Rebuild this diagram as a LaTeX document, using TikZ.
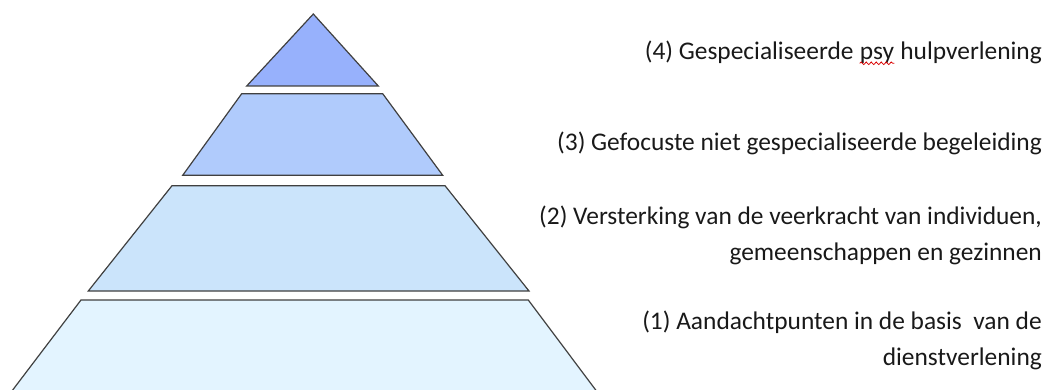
\documentclass[tikz,border=0pt]{standalone}
\usepackage{fontspec}
\setmainfont{Carlito}
\usetikzlibrary{decorations.pathmorphing}
\definecolor{tierfour}{RGB}{151,177,252}
\definecolor{tierthree}{RGB}{176,203,252}
\definecolor{tiertwo}{RGB}{203,228,251}
\definecolor{tierone}{RGB}{227,244,255}
\definecolor{edgegray}{RGB}{64,64,64}
\tikzset{
  tier/.style={draw=edgegray, line width=1.2pt, line join=miter},
  lbl/.style={anchor=east, align=right, inner sep=0pt, text=black!90,
    font=\fontsize{25.4}{36}\selectfont}
}
\newcommand{\spellmark}[1]{\tikz[baseline=(w.base)]{\node[inner sep=0pt] (w) {#1};
  \draw[red!85!black, line width=0.8pt, decorate,
    decoration={snake, amplitude=1.3pt, segment length=5pt}]
    ([yshift=0.5pt]w.south west) -- ([yshift=0.5pt]w.south east);}}
\begin{document}
\begin{tikzpicture}[x=1pt, y=-1pt]
\useasboundingbox (0,0) rectangle (1051,390);
\clip (0,0) rectangle (1051,390);

% Pyramid tiers, top to bottom
\filldraw[tier, fill=tierfour] (313.3,14) -- (378.3,86) -- (246.7,86) -- cycle;
\filldraw[tier, fill=tierthree] (241.7,93.7) -- (382.7,93.7) -- (442.7,175.3) -- (182.7,175.3) -- cycle;
\filldraw[tier, fill=tiertwo] (172,185.7) -- (445,185.7) -- (529,291) -- (88.3,291) -- cycle;
\filldraw[tier, fill=tierone] (81,300) -- (528.3,300) -- (603.2,400) -- (5.1,400) -- cycle;

% Labels of the levels
\node[lbl] (lvlfour) at (1042,53) {(4) Gespecialiseerde \spellmark{psy} hulpverlening};
\node[lbl] (lvlthree) at (1042,143) {(3) Gefocuste niet gespecialiseerde begeleiding};
\node[lbl] (lvltwo) at (1042,235) {(2) Versterking van de veerkracht van individuen,\\ gemeenschappen en gezinnen};
\node[lbl] (lvlone) at (1042,340) {(1) Aandachtpunten in de basis\ \ van de\\ dienstverlening};
\end{tikzpicture}
\end{document}
